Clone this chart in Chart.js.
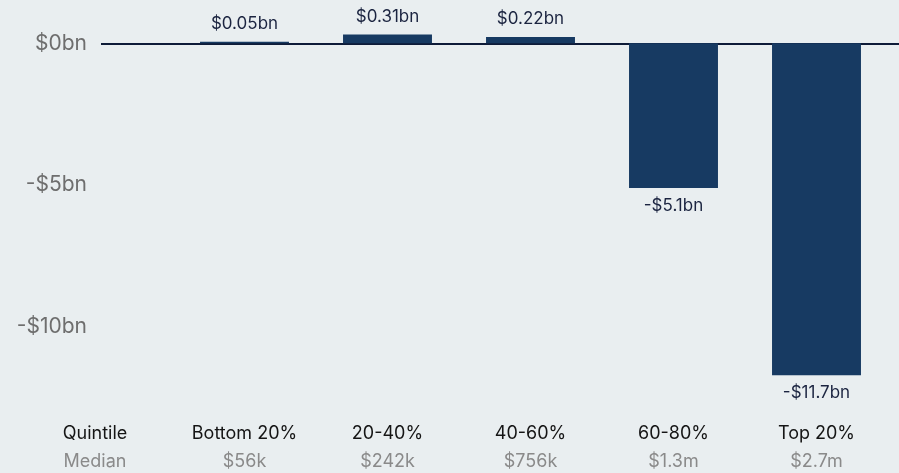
<!DOCTYPE html>
<html>
<head>
<meta charset="utf-8">
<script src="https://cdn.jsdelivr.net/npm/chart.js@4.4.1/dist/chart.umd.min.js"></script>
<style>
  html, body { margin: 0; padding: 0; background: #e9eef0; }
  #wrap { width: 899px; height: 473px; }
</style>
</head>
<body>
<div id="wrap"><canvas id="chart"></canvas></div>
<script>
const quintiles = ['Bottom 20%', '20-40%', '40-60%', '60-80%', 'Top 20%'];
const medians = ['$56k', '$242k', '$756k', '$1.3m', '$2.7m'];
const change = [0.05, 0.31, 0.22, -5.1, -11.7];
const valueLabels = ['$0.05bn', '$0.31bn', '$0.22bn', '-$5.1bn', '-$11.7bn'];
const yTicks = [0, -5, -10];

const navy = '#173a62';
const font = 'Inter, "Noto Sans", sans-serif';

// background, zero line, row titles and bar value labels
const extras = {
    id: 'extras',
    beforeDraw(chart) {
        const ctx = chart.ctx;
        ctx.save();
        ctx.fillStyle = '#e9eef0';
        ctx.fillRect(0, 0, chart.width, chart.height);
        ctx.restore();
    },
    beforeDatasetsDraw(chart) {
        const ctx = chart.ctx;
        const zero = Math.round(chart.scales.y.getPixelForValue(0));
        ctx.save();
        ctx.strokeStyle = '#0e1b38';
        ctx.lineWidth = 2;
        ctx.beginPath();
        ctx.moveTo(101, zero + 1);
        ctx.lineTo(chart.width, zero + 1);
        ctx.stroke();
        ctx.restore();
    },
    afterDatasetsDraw(chart) {
        const ctx = chart.ctx;
        const x = chart.scales.x;
        const x2 = chart.scales.x2;
        ctx.save();
        ctx.textAlign = 'center';
        ctx.textBaseline = 'middle';
        ctx.font = '17px ' + font;
        ctx.fillStyle = '#1b2440';
        chart.getDatasetMeta(0).data.forEach((bar, i) => {
            const ty = change[i] >= 0 ? bar.y - 18 : bar.y + 18;
            ctx.fillText(valueLabels[i], bar.x, ty);
        });

        ctx.font = '18px ' + font;
        ctx.fillStyle = '#151515';
        ctx.fillText('Quintile', 95, x.top + x.options.ticks.padding + 11);
        ctx.fillStyle = '#8a8a8a';
        ctx.fillText('Median', 95, x2.top + x2.options.ticks.padding + 11);
        ctx.restore();
    }
};

new Chart(document.getElementById('chart'), {
    type: 'bar',
    data: {
        labels: quintiles,
        datasets: [{
            data: change,
            backgroundColor: navy,
            barPercentage: 0.622,
            categoryPercentage: 1
        }]
    },
    options: {
        responsive: true,
        maintainAspectRatio: false,
        animation: false,
        layout: { padding: { top: 29, right: 11, left: 0, bottom: 0 } },
        plugins: { legend: { display: false }, tooltip: { enabled: false } },
        scales: {
            y: {
                min: -12.5,
                max: 0.5,
                afterBuildTicks: (scale) => {
                    scale.ticks = yTicks.map(v => ({ value: v }));
                },
                afterFit: (scale) => {
                    // big tick padding would otherwise push the chart area in vertically
                    scale.width = 173;
                    scale.paddingTop = 12;
                    scale.paddingBottom = 12;
                },
                grid: { display: false, drawTicks: false },
                border: { display: false },
                ticks: {
                    padding: 86,
                    color: '#6e6e6e',
                    font: { family: font, size: 21 },
                    callback: (v) => v === 0 ? '$0bn' : '-$' + Math.abs(v) + 'bn'
                }
            },
            x: {
                weight: 0,
                grid: { display: false, drawTicks: false },
                border: { display: false },
                afterFit: (scale) => { scale.height = 47; },
                ticks: {
                    padding: 25,
                    color: '#151515',
                    font: { family: font, size: 18 }
                }
            },
            x2: {
                type: 'category',
                position: 'bottom',
                weight: 1,
                offset: true,
                labels: medians,
                grid: { display: false, drawTicks: false },
                border: { display: false },
                afterFit: (scale) => { scale.height = 28; },
                ticks: {
                    padding: 6,
                    color: '#8a8a8a',
                    font: { family: font, size: 18 }
                }
            }
        }
    },
    plugins: [extras]
});
</script>
</body>
</html>
